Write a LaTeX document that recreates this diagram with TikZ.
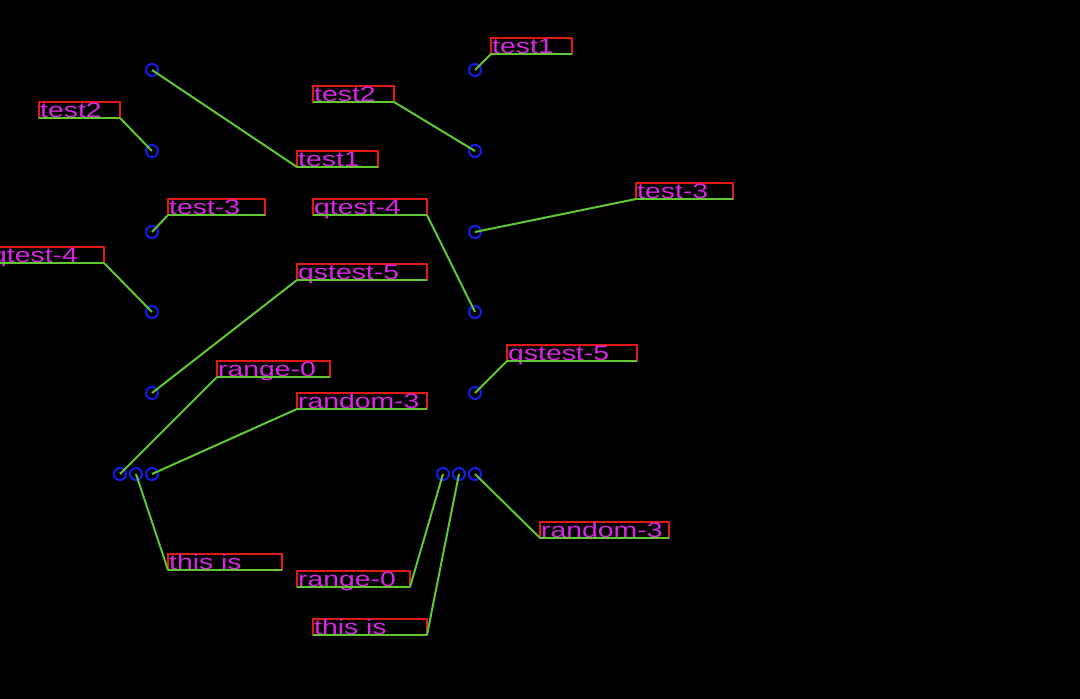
\documentclass[tikz,border=0pt]{standalone}
\usepackage{fontspec}
\usepackage{graphicx}
\newfontfamily\lblfamily{Liberation Sans}
\definecolor{cred}{RGB}{225,25,20}
\definecolor{cgreen}{RGB}{95,200,50}
\definecolor{cmag}{RGB}{215,40,225}
\definecolor{cblue}{RGB}{20,30,235}
\newcommand{\lbltxt}[1]{{\lblfamily\fontsize{21}{21}\selectfont\scalebox{1.35}[1]{#1}}}
\tikzset{
  boxst/.style={draw=cred, line width=1.6pt, minimum height=16pt, inner sep=0pt, outer sep=0pt, anchor=south west},
  txtst/.style={text=cmag, inner sep=0pt, anchor=base west},
  ptst/.style={circle, draw=cblue, line width=2pt, minimum size=12pt, inner sep=0pt},
  conn/.style={draw=cgreen, line width=2pt},
}
\begin{document}
\begin{tikzpicture}[x=1pt,y=-1pt]
\fill[black] (0,0) rectangle (1080,699);
\useasboundingbox (0,0) rectangle (1080,699);
\clip (0,0) rectangle (1080,699);
% points
\node[ptst] (p1) at (152,70) {};
\node[ptst] (p2) at (152,151) {};
\node[ptst] (p3) at (152,232) {};
\node[ptst] (p4) at (152,312) {};
\node[ptst] (p5) at (152,393) {};
\node[ptst] (p6) at (120,474) {};
\node[ptst] (p7) at (136,474) {};
\node[ptst] (p8) at (152,474) {};
\node[ptst] (q1) at (475,70) {};
\node[ptst] (q2) at (475,151) {};
\node[ptst] (q3) at (475,232) {};
\node[ptst] (q4) at (475,312) {};
\node[ptst] (q5) at (475,393) {};
\node[ptst] (q6) at (443,474) {};
\node[ptst] (q7) at (459,474) {};
\node[ptst] (q8) at (475,474) {};
% label boxes
\node[boxst, minimum width=81pt] (a1) at (297,167) {};
\node[boxst, minimum width=81pt] (a2) at (39,118) {};
\node[boxst, minimum width=97pt] (a3) at (168,215) {};
\node[boxst, minimum width=114pt] (a4) at (-10,263) {};
\node[boxst, minimum width=130pt] (a5) at (297,280) {};
\node[boxst, minimum width=113pt] (a6) at (217,377) {};
\node[boxst, minimum width=114pt] (a8) at (168,570) {};
\node[boxst, minimum width=130pt] (a7) at (297,409) {};
\node[boxst, minimum width=81pt] (b1) at (491,54) {};
\node[boxst, minimum width=81pt] (b2) at (313,102) {};
\node[boxst, minimum width=97pt] (b3) at (636,199) {};
\node[boxst, minimum width=114pt] (b4) at (313,215) {};
\node[boxst, minimum width=130pt] (b5) at (507,361) {};
\node[boxst, minimum width=113pt] (b6) at (297,587) {};
\node[boxst, minimum width=114pt] (b7) at (313,635) {};
\node[boxst, minimum width=129pt] (b8) at (540,538) {};
% texts
\foreach \n/\t in {a1/test1, a2/test2, a3/test-3, a4/qtest-4, a5/qstest-5, a6/range-0, a7/random-3, a8/this is,
                   b1/test1, b2/test2, b3/test-3, b4/qtest-4, b5/qstest-5, b6/range-0, b7/this is, b8/random-3}{
  \node[txtst] (t\n) at ([xshift=1pt,yshift=1pt]\n.south west) {\lbltxt{\t}};
  \draw[conn] (\n.south west) -- (\n.south east);
}
% connectors
\draw[conn] (p1.center) -- (a1.south west);
\draw[conn] (a2.south east) -- (p2.center);
\draw[conn] (a3.south west) -- (p3.center);
\draw[conn] (a4.south east) -- (p4.center);
\draw[conn] (a5.south west) -- (p5.center);
\draw[conn] (a6.south west) -- (p6.center);
\draw[conn] (a7.south west) -- (p8.center);
\draw[conn] (a8.south west) -- (p7.center);
\draw[conn] (b1.south west) -- (q1.center);
\draw[conn] (b2.south east) -- (q2.center);
\draw[conn] (b3.south west) -- (q3.center);
\draw[conn] (b4.south east) -- (q4.center);
\draw[conn] (b5.south west) -- (q5.center);
\draw[conn] (b6.south east) -- (q6.center);
\draw[conn] (b7.south east) -- (q7.center);
\draw[conn] (b8.south west) -- (q8.center);
\end{tikzpicture}
\end{document}
